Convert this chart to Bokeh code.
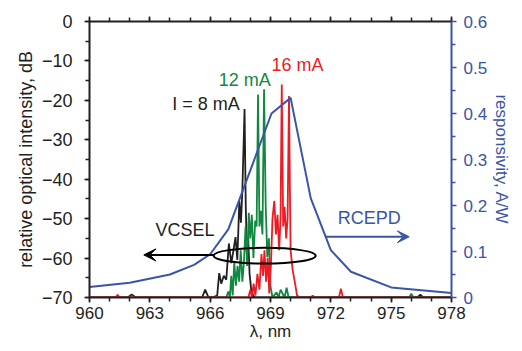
import math
from bokeh.plotting import figure
from bokeh.models import (Range1d, LinearAxis, SingleIntervalTicker, FixedTicker, CustomJSTickFormatter,
                          Label, Arrow, VeeHead)
from bokeh.embed import file_html
from bokeh.resources import INLINE

# ---------------- data ----------------
resp_wl = [960, 962, 964, 965.2, 966, 966.9, 969.05, 970, 971, 972, 973, 975, 978]
resp_val = [0.023, 0.032, 0.050, 0.071, 0.094, 0.148, 0.40, 0.434, 0.216, 0.103, 0.056, 0.022, 0.010]

bk_wl = [960.0, 961.9, 962.1, 962.3, 965.6, 965.75, 965.9, 966.1, 966.35, 966.45, 966.55, 966.68,
         966.8, 966.93, 967.05, 967.16, 967.26, 967.35, 967.45, 967.53, 967.6, 967.71, 967.77,
         967.83, 967.89, 967.96, 968.05, 968.2, 976.3, 976.45, 976.6, 978.0]
bk_db = [-70, -70, -69.2, -70, -70, -68.0, -69.8, -70, -69.5, -63.8, -66.5, -64.5,
         -65.5, -56.3, -61.3, -58.0, -54.7, -60.5, -45.5, -51.0, -43.0, -22.2, -47.0,
         -59.0, -54.7, -64.0, -68.5, -70, -70, -69.3, -70, -70]

gr_wl = [960.0, 966.8, 966.9, 966.98, 967.05, 967.12, 967.2, 967.28, 967.36, 967.44, 967.52,
         967.6, 967.68, 967.76, 967.84, 967.92, 967.99, 968.07, 968.15, 968.24, 968.31, 968.38,
         968.45, 968.52, 968.6, 968.68, 968.76, 968.84, 968.92, 969.0, 969.1, 969.3, 969.4,
         969.5, 969.7, 969.8, 969.9, 970.1, 975.9, 976.0, 976.1, 978.0]
gr_db = [-70, -70, -68.5, -70, -64.5, -69.5, -61.0, -67.0, -62.0, -66.0, -58.0,
         -66.0, -61.0, -52.0, -62.0, -48.5, -55.0, -49.0, -60.0, -50.5, -52.0, -18.5,
         -52.0, -48.0, -54.0, -17.2, -46.5, -59.8, -55.0, -67.2, -70, -68.7, -70,
         -68.0, -70, -67.5, -70, -70, -70, -69.0, -70, -70]

rd_wl = [960.0, 961.3, 961.4, 961.5, 967.9, 968.0, 968.08, 968.16, 968.25, 968.35, 968.45,
         968.55, 968.63, 968.7, 968.78, 968.86, 968.94, 969.02, 969.1, 969.19, 969.27, 969.35,
         969.43, 969.5, 969.56, 969.63, 969.7, 969.78, 969.85, 969.92, 969.97, 970.0, 970.1,
         970.24, 970.32, 970.45, 971.0, 971.1, 971.2, 972.4, 972.5, 972.6, 978.0]
rd_db = [-70, -70, -69.3, -70, -70, -68.0, -70, -66.5, -69.5, -64.0, -68.0,
         -59.0, -64.5, -58.0, -66.0, -60.0, -69.0, -62.0, -49.8, -45.5, -54.0, -49.0,
         -58.0, -50.0, -16.0, -52.0, -47.0, -55.0, -50.0, -18.9, -45.0, -58.0, -63.0,
         -67.0, -69.5, -70, -70, -69.5, -70, -70, -67.8, -70, -70]

x_ticks_major = 3
y_ticks_major = 10
resp_ticks = [0, 0.1, 0.2, 0.3, 0.4, 0.5, 0.6]
resp_minor = [0.05, 0.15, 0.25, 0.35, 0.45, 0.55]

# ---------------- styles ----------------
BLUE = "#3a55a5"
GREEN = "#10893e"
RED = "#ec1c24"
INK = "#231f20"
FONT = "Liberation Sans"
FS = "18px"

p = figure(width=514, height=343, output_backend="svg", toolbar_location=None,
           x_range=Range1d(960, 978), y_range=Range1d(-70, 0),
           min_border_left=89, min_border_right=57, min_border_top=21, min_border_bottom=46)
p.outline_line_color = None
p.grid.visible = False
p.background_fill_color = "white"
p.border_fill_color = "white"
p.extra_y_ranges = {"resp": Range1d(0, 0.6)}

def style_axis(ax, color, fs=FS):
    ax.axis_line_color = color
    ax.axis_line_width = 2
    ax.major_tick_line_color = color
    ax.minor_tick_line_color = color
    ax.major_tick_line_width = 1.5
    ax.minor_tick_line_width = 1.5
    ax.major_tick_out = 5
    ax.major_tick_in = 0
    ax.minor_tick_out = 4
    ax.minor_tick_in = 0
    ax.major_label_text_color = color
    ax.major_label_text_font = FONT
    ax.major_label_text_font_size = fs
    ax.axis_label_text_font = FONT
    ax.axis_label_text_font_size = fs
    ax.axis_label_text_font_style = "normal"
    ax.axis_label_text_color = color

xax = p.xaxis[0]
xax.ticker = SingleIntervalTicker(interval=x_ticks_major, num_minor_ticks=3)
style_axis(xax, INK, "17px")
xax.major_label_standoff = 4
xax.axis_label = "\u03bb, nm"
xax.axis_label_standoff = 0

yax = p.yaxis[0]
yax.ticker = SingleIntervalTicker(interval=y_ticks_major, num_minor_ticks=2)
yax.formatter = CustomJSTickFormatter(code="return tick < 0 ? '\u2212' + (-tick).toFixed(0) : tick.toFixed(0);")
style_axis(yax, INK)
yax.major_label_standoff = 12
yax.axis_label = "relative optical intensity, dB"
yax.axis_label_standoff = 3

top = LinearAxis(ticker=SingleIntervalTicker(interval=x_ticks_major, num_minor_ticks=3),
                 formatter=CustomJSTickFormatter(code="return '';"))
style_axis(top, INK)
top.major_label_text_font_size = "1px"
top.major_label_standoff = 0
p.add_layout(top, "above")

rax = LinearAxis(y_range_name="resp",
                 ticker=FixedTicker(ticks=resp_ticks, minor_ticks=resp_minor),
                 formatter=CustomJSTickFormatter(code="return Math.abs(tick) < 1e-9 ? '0' : tick.toFixed(1);"))
style_axis(rax, BLUE, "17px")
rax.major_label_standoff = 7
rax.axis_label = "responsivity, A/W"
rax.axis_label_standoff = 2
p.add_layout(rax, "right")

# ---------------- data marks ----------------
p.line(bk_wl, bk_db, line_color=INK, line_width=1.8)
p.line(gr_wl, gr_db, line_color=GREEN, line_width=1.8)
p.line(rd_wl, rd_db, line_color=RED, line_width=1.8)
p.line(resp_wl, resp_val, line_color=BLUE, line_width=2, y_range_name="resp")

# ---------------- annotations ----------------
p.ellipse(x=[968.71], y=[-59.4], width=[5.07], height=[4.0],
          fill_color=None, line_color="black", line_width=2)

p.add_layout(Arrow(end=VeeHead(size=12, line_color="black", fill_color="black", line_width=1),
                   x_start=966.17, y_start=-59.2, x_end=962.7, y_end=-59.2,
                   line_color="black", line_width=2))
p.add_layout(Arrow(end=VeeHead(size=12, line_color=BLUE, fill_color=BLUE, line_width=1),
                   x_start=971.76, y_start=-54.6, x_end=975.9, y_end=-54.6,
                   line_color=BLUE, line_width=2))

def lab(x, y, text, color, **kw):
    opts = dict(text_font=FONT, text_font_size=FS, text_color=color,
                text_baseline="middle", text_align="left")
    opts.update(kw)
    p.add_layout(Label(x=x, y=y, text=text, **opts))

lab(964.11, -21.0, "I = 8 mA", INK)
lab(966.43, -14.75, "12 mA", GREEN)
lab(969.05, -11.0, "16 mA", RED)
lab(963.28, -53.0, "VCSEL", INK)
lab(972.34, -49.9, "RCEPD", BLUE)

open("out.html", "w").write(file_html(p, INLINE))
